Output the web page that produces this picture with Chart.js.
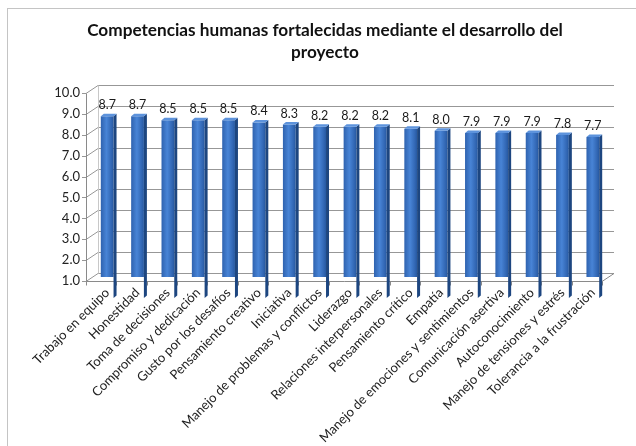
<!DOCTYPE html>
<html>
<head>
<meta charset="utf-8">
<script src="https://cdn.jsdelivr.net/npm/chart.js@4/dist/chart.umd.min.js"></script>
<style>
  html, body { margin: 0; padding: 0; background: #ffffff; }
  #wrap { position: relative; width: 636px; height: 446px; overflow: hidden; }
  #marco { position: absolute; left: 7px; top: 8px; width: 640px; height: 450px;
           border: 1px solid #c4c4c4; pointer-events: none; box-sizing: border-box; }
</style>
</head>
<body>
<div id="wrap">
  <canvas id="grafico" width="636" height="446"></canvas>
  <div id="marco"></div>
</div>
<script>
const categorias = [
  "Trabajo en equipo", "Honestidad", "Toma de decisiones", "Compromiso y dedicación",
  "Gusto por los desafíos", "Pensamiento creativo", "Iniciativa",
  "Manejo de problemas y conflictos", "Liderazgo", "Relaciones interpersonales",
  "Pensamiento crítico", "Empatía", "Manejo de emociones y sentimientos",
  "Comunicación asertiva", "Autoconocimiento", "Manejo de tensiones y estrés",
  "Tolerancia a la frustración"
];
const valores = [8.7, 8.7, 8.5, 8.5, 8.5, 8.4, 8.3, 8.2, 8.2, 8.2, 8.1, 8.0, 7.9, 7.9, 7.9, 7.8, 7.7];
const escalaY = [1, 2, 3, 4, 5, 6, 7, 8, 9, 10];
const titulo = ["Competencias humanas fortalecidas mediante el desarrollo del", "proyecto"];

const FUENTE = "Lato, 'Open Sans', sans-serif";
// depth offset between the bar plane and the back wall / front edge
const PROF_X = 6, PROF_Y = 4;

// back wall, left wall and floor of the 3D frame
const marco3D = {
  id: 'marco3D',
  beforeDatasetsDraw(chart) {
    const { ctx, chartArea: a, scales: { x, y } } = chart;
    ctx.save();
    ctx.lineWidth = 1;
    ctx.strokeStyle = '#979797';
    escalaY.forEach(v => {
      const yy = Math.round(y.getPixelForValue(v)) + 0.5;
      ctx.beginPath();
      ctx.moveTo(a.left + PROF_X, yy - PROF_Y);
      ctx.lineTo(a.right + PROF_X, yy - PROF_Y);
      ctx.moveTo(a.left - PROF_X, yy + PROF_Y);
      ctx.lineTo(a.left + PROF_X, yy - PROF_Y);
      ctx.moveTo(a.left - PROF_X - 4, yy + PROF_Y);
      ctx.lineTo(a.left - PROF_X, yy + PROF_Y);
      ctx.stroke();
    });
    const base = Math.round(y.getPixelForValue(escalaY[0])) + 0.5;
    const cima = Math.round(y.getPixelForValue(escalaY[escalaY.length - 1])) + 0.5;
    ctx.strokeStyle = '#8a8a8a';
    ctx.beginPath();
    // front-left axis
    ctx.moveTo(a.left - PROF_X + 0.5, cima + PROF_Y);
    ctx.lineTo(a.left - PROF_X + 0.5, base + PROF_Y);
    // front floor edge and right floor edge
    ctx.lineTo(a.right - PROF_X, base + PROF_Y);
    ctx.lineTo(a.right + PROF_X, base - PROF_Y);
    ctx.stroke();
    ctx.strokeStyle = '#c8c8c8';
    ctx.beginPath();
    ctx.moveTo(a.left + PROF_X + 0.5, cima - PROF_Y);
    ctx.lineTo(a.left + PROF_X + 0.5, base - PROF_Y);
    ctx.stroke();
    // category ticks under the front floor edge
    ctx.strokeStyle = '#8a8a8a';
    ctx.beginPath();
    for (let i = 0; i <= categorias.length; i++) {
      const bx = Math.round(x.getPixelForValue(i - 0.5) - PROF_X) + 0.5;
      ctx.moveTo(bx, base + PROF_Y);
      ctx.lineTo(bx, base + PROF_Y + 4);
    }
    ctx.stroke();
    ctx.restore();
  }
};

// side and top faces of each column, plus the value over it
const columnas3D = {
  id: 'columnas3D',
  afterDatasetsDraw(chart) {
    const { ctx } = chart;
    const meta = chart.getDatasetMeta(0);
    ctx.save();
    meta.data.forEach((el, i) => {
      const { x, y, base, width } = el.getProps(['x', 'y', 'base', 'width'], true);
      const l = x - width / 2, r = x + width / 2;
      const d = 3, dv = 2.5;
      ctx.fillStyle = '#1d4680';
      ctx.beginPath();
      ctx.moveTo(r, y); ctx.lineTo(r + d, y - dv); ctx.lineTo(r + d, base - dv); ctx.lineTo(r, base);
      ctx.closePath(); ctx.fill();
      ctx.fillStyle = '#5d93dc';
      ctx.beginPath();
      ctx.moveTo(l, y); ctx.lineTo(l + d, y - dv); ctx.lineTo(r + d, y - dv); ctx.lineTo(r, y);
      ctx.closePath(); ctx.fill();
      ctx.fillStyle = '#1a1a1a';
      ctx.font = '12.5px ' + FUENTE;
      ctx.textAlign = 'center';
      ctx.textBaseline = 'middle';
      ctx.fillText(valores[i].toFixed(1), x, y - 11);
    });
    ctx.restore();
  }
};

new Chart(document.getElementById('grafico'), {
  type: 'bar',
  data: {
    labels: categorias,
    datasets: [{
      data: valores,
      borderWidth: 0,
      backgroundColor(context) {
        const c = context.chart;
        const xs = c.scales.x;
        if (!xs || !c.chartArea) return '#3d74c4';
        const cx = xs.getPixelForValue(context.dataIndex);
        const g = c.ctx.createLinearGradient(cx - 7, 0, cx + 7, 0);
        g.addColorStop(0, '#2c5fab');
        g.addColorStop(0.45, '#4884d6');
        g.addColorStop(0.8, '#3267b4');
        g.addColorStop(1, '#23549a');
        return g;
      },
      barPercentage: 0.42,
      categoryPercentage: 1
    }]
  },
  options: {
    responsive: false,
    animation: false,
    layout: { padding: { left: 14, right: 0, top: 0, bottom: 0 } },
    plugins: {
      legend: { display: false },
      tooltip: { enabled: false },
      title: {
        display: true,
        text: titulo,
        color: '#111111',
        font: { family: FUENTE, size: 17.2, weight: 'bold', lineHeight: 1.28 },
        padding: { top: 19, bottom: 26 }
      }
    },
    scales: {
      x: {
        grid: { display: false, drawTicks: false },
        border: { display: false },
        ticks: {
          autoSkip: false,
          maxRotation: 45,
          minRotation: 45,
          padding: 8,
          color: '#222222',
          font: { family: FUENTE, size: 13 }
        },
        afterFit(scale) { scale.height = 169; }
      },
      y: {
        min: 1,
        max: 10,
        grid: { display: false, drawTicks: false },
        border: { display: false },
        ticks: {
          stepSize: 1,
          padding: 12,
          labelOffset: 4,
          color: '#222222',
          font: { family: FUENTE, size: 13 },
          callback: v => Number(v).toFixed(1)
        },
        afterFit(scale) { scale.width = 78; }
      },
      margen: {
        type: 'linear',
        position: 'right',
        display: true,
        grid: { display: false, drawTicks: false },
        border: { display: false },
        ticks: { display: false },
        afterFit(scale) { scale.width = 28; }
      }
    }
  },
  plugins: [marco3D, columnas3D]
});
</script>
</body>
</html>
